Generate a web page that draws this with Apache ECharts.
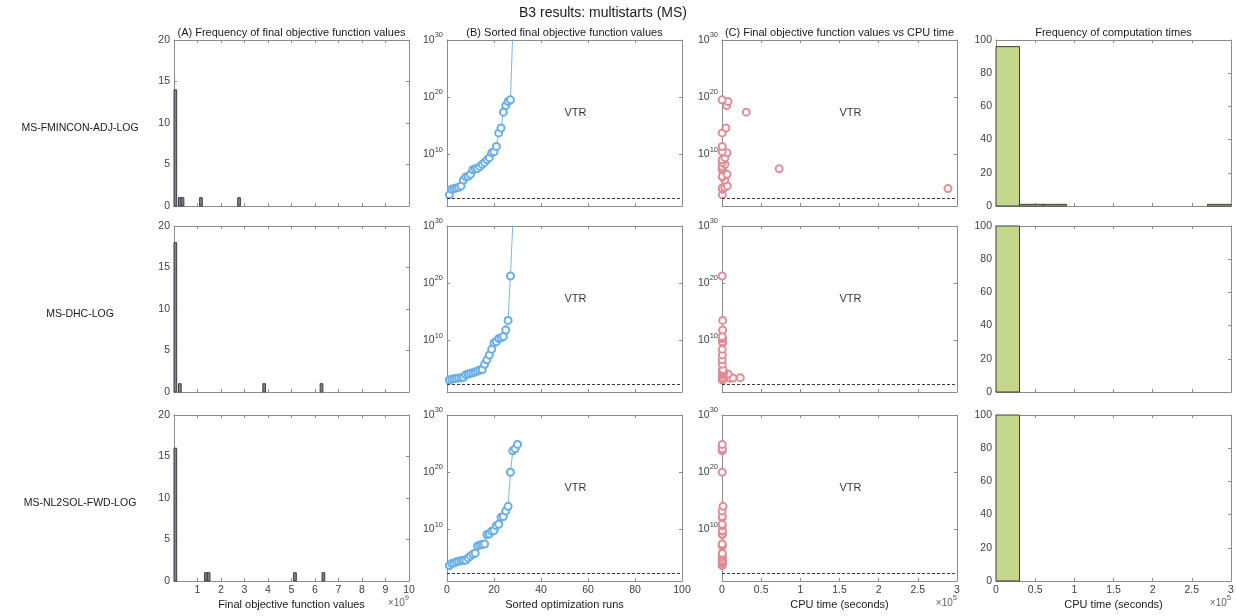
<!DOCTYPE html>
<html>
<head>
<meta charset="utf-8">
<title>B3 results: multistarts (MS)</title>
<script src="https://cdn.jsdelivr.net/npm/echarts@6.0.0/dist/echarts.min.js"></script>
<style>
  html, body { margin: 0; padding: 0; background: #ffffff; }
  #chart { width: 1236px; height: 616px; }
</style>
</head>
<body>
<div id="chart"></div>
<script>
// ---------------- data ----------------
const mainTitle = 'B3 results: multistarts (MS)';
const solverNames = ['MS-FMINCON-ADJ-LOG', 'MS-DHC-LOG', 'MS-NL2SOL-FWD-LOG'];
const panelTitles = [
  '(A) Frequency of final objective function values',
  '(B) Sorted final objective function values',
  '(C) Final objective function values vs CPU time',
  'Frequency of computation times'
];
const xAxisNames = ['Final objective function values', 'Sorted optimization runs', 'CPU time (seconds)', 'CPU time (seconds)'];
const vtrValue = 250;          // value to reach (dashed line)
const vtrText = 'VTR';

// (A) histogram of final values (x in units of 1e9): bin left edges and counts
const binWidthA = 0.115;
const histEdges_FMINCON = [0, 0.19, 0.305, 1.09, 2.71];
const histCounts_FMINCON = [14, 1, 1, 1, 1];
const histEdges_DHC = [0, 0.19, 3.78, 6.22];
const histCounts_DHC = [18, 1, 1, 1];
const histEdges_NL2SOL = [0, 1.30, 1.415, 5.09, 6.30];
const histCounts_NL2SOL = [16, 1, 1, 1, 1];

// (B) sorted final objective function values, one per run
const sortedF_FMINCON = [8.9e2, 8.5e3, 1.1e4, 1.45e4, 1.9e4, 3.2e4, 3.5e5, 1.2e6, 1.5e6, 3.4e6,
  2.2e7, 3.2e7, 3.7e7, 8.3e7, 1.9e8, 4.1e8, 1.15e9, 2.75e9, 1.95e10, 2.9e10,
  2.45e11, 5.8e13, 4.2e14, 2.5e17, 3.5e18, 1.8e19, 3.5e19, 4e31];
const sortedF_DHC = [1.26e3, 1.66e3, 2.14e3, 2.45e3, 2.8e3, 3.2e3, 3.6e3, 1.05e4, 1.4e4, 1.8e4,
  2.3e4, 3.0e4, 4.6e4, 6.8e4, 8.7e4, 7.2e5, 4.1e6, 2.95e7, 2.8e8, 3.85e9,
  6.3e9, 2.2e10, 2.9e10, 4.9e10, 6.9e11, 3.2e13, 1.8e21, 3e30];
const sortedF_NL2SOL = [5.0e3, 1.12e4, 1.45e4, 2.2e4, 2.8e4, 3.7e4, 4.0e4, 4.4e4, 1.07e5, 2.4e5,
  4.6e5, 6.9e5, 1.3e7, 1.9e7, 2.5e7, 2.9e7, 1.35e9, 1.55e9, 5.15e9, 6.35e9,
  4.4e10, 8.3e10, 1.4e12, 1.8e12, 1.7e13, 1.1e14, 1.0e20, 5.8e23, 1.26e24, 7.2e24];

// (C) CPU time (s) of each of the runs above, same order
const cpuTime_FMINCON = [400, 500, 288500, 300, 3500, 6800, 3500, 600, 300, 6400,
  300, 73000, 200, 300, 3800, 400, 100, 3800, 6400, 300,
  200, 300, 5100, 31000, 6000, 7700, 200, 500];
const cpuTime_DHC = [300, 1200, 600, 10600, 14000, 23400, 900, 500, 7700, 1500,
  2500, 800, 300, 600, 1200, 300, 200, 500, 300, 900,
  400, 300, 700, 200, 800, 900, 200, 300];
const cpuTime_NL2SOL = [200, 400, 300, 600, 500, 300, 800, 400, 200, 300,
  500, 400, 300, 200, 600, 300, 400, 200, 300, 500,
  300, 200, 400, 300, 200, 1300, 300, 200, 400, 300];

// (D) histogram of computation times: 10 bins of 3e4 s from 0
const timeBinWidth = 30000;
const timeCounts_FMINCON = [96, 1, 1, 0, 0, 0, 0, 0, 0, 1];
const timeCounts_DHC = [100, 0, 0, 0, 0, 0, 0, 0, 0, 0];
const timeCounts_NL2SOL = [100, 0, 0, 0, 0, 0, 0, 0, 0, 0];

const histEdgesA = [histEdges_FMINCON, histEdges_DHC, histEdges_NL2SOL];
const histCountsA = [histCounts_FMINCON, histCounts_DHC, histCounts_NL2SOL];
const sortedF = [sortedF_FMINCON, sortedF_DHC, sortedF_NL2SOL];
const cpuTimes = [cpuTime_FMINCON, cpuTime_DHC, cpuTime_NL2SOL];
const timeCounts = [timeCounts_FMINCON, timeCounts_DHC, timeCounts_NL2SOL];

// ---------------- layout & style ----------------
const FONT = '"Liberation Sans", Arial, Helvetica, sans-serif';
const AXIS_COLOR = '#8c8c8c';
const LABEL_COLOR = '#404040';
const TEXT_COLOR = '#1a1a1a';
const BAR_A = '#8a7b9c';
const BAR_D = '#c5d78c';
const BAR_EDGE = '#3d3d3d';
const BLUE = '#6aaee6';
const RED = '#de8990';

const colLeft = [174, 447, 722, 996];
const colW = 235;
const rowTop = [40, 226, 415];
const rowH = 166;

const supRich = {
  b: { fontSize: 10.5, fontFamily: FONT, color: LABEL_COLOR, lineHeight: 18 },
  s: { fontSize: 7.5, fontFamily: FONT, color: LABEL_COLOR, lineHeight: 8, verticalAlign: 'top' }
};
function powLabel(v) {
  const e = Math.round(Math.log10(v));
  return (e > 0 && e % 10 === 0) ? '{b|10}{s|' + e + '}' : '';
}

function axisBase(showLabel) {
  return {
    axisLine: { show: true, onZero: false, lineStyle: { color: AXIS_COLOR, width: 1 } },
    axisTick: { show: true, inside: true, length: 3, lineStyle: { color: AXIS_COLOR, width: 1 } },
    splitLine: { show: false },
    axisLabel: { show: showLabel, color: LABEL_COLOR, fontSize: 10.5, fontFamily: FONT, margin: 4 }
  };
}

function xAxisFor(col, g, bottomRow, top) {
  const ax = Object.assign({ gridIndex: g, type: 'value', position: top ? 'top' : 'bottom' },
    axisBase(bottomRow && !top));
  if (col === 0) {
    Object.assign(ax, { min: 0, max: 10, interval: 1 });
    ax.axisLabel.formatter = v => (v === 0 ? '' : String(v));
  } else if (col === 1) {
    Object.assign(ax, { min: 0, max: 100, interval: 20 });
  } else {
    Object.assign(ax, { min: 0, max: 3e5, interval: 5e4 });
    ax.axisLabel.formatter = v => String(v / 1e5);
  }
  if (bottomRow && !top) {
    Object.assign(ax, {
      name: xAxisNames[col], nameLocation: 'middle', nameGap: 18,
      nameTextStyle: { color: TEXT_COLOR, fontSize: 11, fontFamily: FONT }
    });
  }
  return ax;
}

function yAxisFor(col, g, right) {
  const ax = Object.assign({ gridIndex: g, position: right ? 'right' : 'left' }, axisBase(!right));
  if (col === 0) {
    Object.assign(ax, { type: 'value', min: 0, max: 20, interval: 5 });
  } else if (col === 3) {
    Object.assign(ax, { type: 'value', min: 0, max: 100, interval: 20 });
  } else {
    Object.assign(ax, { type: 'log', logBase: 10, min: 10, max: 1e30, splitNumber: 3 });
    ax.axisLabel.formatter = powLabel;
    ax.axisLabel.rich = supRich;
  }
  return ax;
}

function histSeries(g, lefts, counts, width, fill) {
  return {
    type: 'custom',
    xAxisIndex: 2 * g, yAxisIndex: 2 * g,
    data: lefts.map((x, i) => [x, counts[i]]).filter(d => d[1] > 0),
    encode: { x: 0, y: 1 },
    silent: true,
    renderItem: (params, api) => {
      const x0 = api.value(0), n = api.value(1);
      const a = api.coord([x0, n]);
      const b = api.coord([x0 + width, 0]);
      return {
        type: 'rect',
        shape: { x: a[0], y: a[1], width: b[0] - a[0], height: b[1] - a[1] },
        style: { fill: fill, stroke: BAR_EDGE, lineWidth: 1 }
      };
    }
  };
}

function vtrLine() {
  return {
    silent: true, symbol: ['none', 'none'],
    label: { show: false },
    lineStyle: { color: '#3a3a3a', width: 1, type: [3, 2] },
    data: [{ yAxis: vtrValue }]
  };
}

function vtrLabel(g, xMid) {
  return {
    type: 'scatter', xAxisIndex: 2 * g, yAxisIndex: 2 * g,
    symbolSize: 0, silent: true,
    data: [[xMid, 1.6e17]],
    label: {
      show: true, formatter: vtrText, position: 'right', distance: 0,
      color: '#000', fontSize: 11, fontFamily: FONT
    }
  };
}

const grids = [], xAxes = [], yAxes = [], series = [];
for (let r = 0; r < 3; r++) {
  for (let c = 0; c < 4; c++) {
    const g = r * 4 + c;
    grids.push({ left: colLeft[c], top: rowTop[r], width: colW, height: rowH, containLabel: false, outerBoundsMode: 'none' });
    const bottomRow = r === 2;
    xAxes.push(xAxisFor(c, g, bottomRow, false));
    xAxes.push(xAxisFor(c, g, bottomRow, true));
    yAxes.push(yAxisFor(c, g, false));
    yAxes.push(yAxisFor(c, g, true));

    if (c === 0) {
      series.push(histSeries(g, histEdgesA[r], histCountsA[r], binWidthA, BAR_A));
    } else if (c === 1) {
      series.push({
        type: 'line', xAxisIndex: 2 * g, yAxisIndex: 2 * g,
        data: sortedF[r].map((v, i) => [i + 1, v]),
        symbol: 'emptyCircle', symbolSize: 7, showAllSymbol: true, clip: true,
        lineStyle: { color: BLUE, width: 0.9 },
        itemStyle: { color: BLUE, borderColor: BLUE, borderWidth: 0.9 },
        emphasis: { disabled: true },
        markLine: vtrLine()
      });
      series.push(vtrLabel(g, 50));
    } else if (c === 2) {
      series.push({
        type: 'scatter', xAxisIndex: 2 * g, yAxisIndex: 2 * g,
        data: sortedF[r].map((v, i) => [cpuTimes[r][i], v]),
        symbol: 'emptyCircle', symbolSize: 7, clip: true,
        itemStyle: { color: RED, borderColor: RED, borderWidth: 0.9, opacity: 0.95 },
        emphasis: { disabled: true },
        markLine: vtrLine()
      });
      series.push(vtrLabel(g, 1.5e5));
    } else {
      const lefts = timeCounts[r].map((n, i) => i * timeBinWidth);
      series.push(histSeries(g, lefts, timeCounts[r], timeBinWidth, BAR_D));
    }
  }
}

// titles, row labels and exponent notes
const graphics = [];
function addText(x, y, text, size, align, color) {
  graphics.push({
    type: 'text', x: x, y: y, silent: true,
    style: { text: text, fontSize: size, fontFamily: FONT, fill: color || TEXT_COLOR, align: align || 'center', verticalAlign: 'middle' }
  });
}
addText(603, 13, mainTitle, 14);
panelTitles.forEach((t, c) => addText(colLeft[c] + colW / 2, 33, t, 11));
solverNames.forEach((t, r) => addText(80, rowTop[r] + rowH / 2 + 5, t, 10.5));
const expNotes = [[0, 9], [2, 5], [3, 5]];
expNotes.forEach(([c, e]) => {
  graphics.push({
    type: 'text', x: colLeft[c] + colW, y: 603, silent: true,
    style: {
      text: '{b|\u00d710}{s|' + e + '}', align: 'right', verticalAlign: 'middle',
      rich: {
        b: { fontSize: 10, fontFamily: FONT, fill: '#606060', color: '#606060', lineHeight: 18 },
        s: { fontSize: 7.5, fontFamily: FONT, fill: '#606060', color: '#606060', lineHeight: 8, verticalAlign: 'top' }
      }
    }
  });
});

const chart = echarts.init(document.getElementById('chart'), null, { renderer: 'canvas' });
chart.setOption({
  backgroundColor: '#ffffff',
  animation: false,
  grid: grids,
  xAxis: xAxes,
  yAxis: yAxes,
  series: series,
  graphic: graphics
});
</script>
</body>
</html>
